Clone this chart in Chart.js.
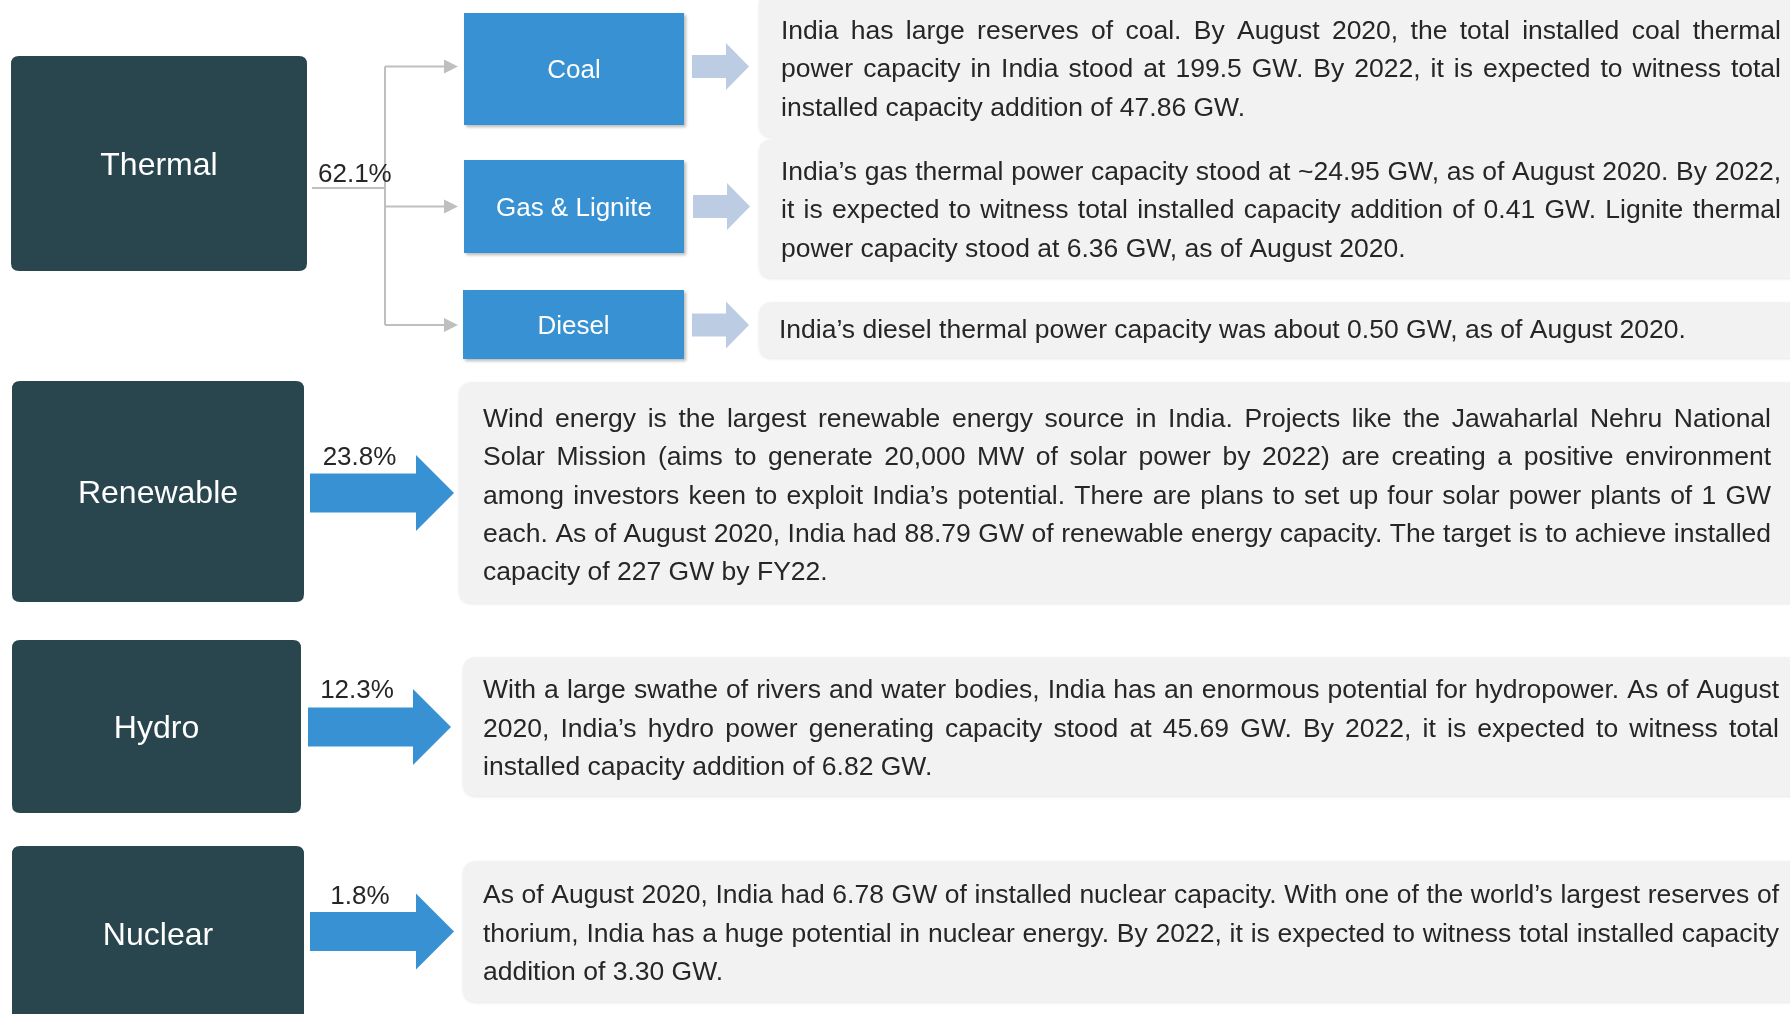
<!DOCTYPE html>
<html>
<head>
<meta charset="utf-8">
<script src="https://cdn.jsdelivr.net/npm/chart.js"></script>
<style>
html, body { margin: 0; padding: 0; background: #ffffff; }
#wrap { position: relative; width: 1790px; height: 1014px; }
</style>
</head>
<body>
<div id="wrap"><canvas id="powerChart"></canvas></div>
<script>
// Data
const sources = ['Thermal', 'Renewable', 'Hydro', 'Nuclear'];
const shares = [62.1, 23.8, 12.3, 1.8];
const thermalTypes = ['Coal', 'Gas & Lignite', 'Diesel'];

const coalNote = [
    'India has large reserves of coal. By August 2020, the total installed coal thermal',
    'power capacity in India stood at 199.5 GW. By 2022, it is expected to witness total',
    'installed capacity addition of 47.86 GW.'
];
const gasNote = [
    'India\u2019s gas thermal power capacity stood at ~24.95 GW, as of August 2020. By 2022,',
    'it is expected to witness total installed capacity addition of 0.41 GW. Lignite thermal',
    'power capacity stood at 6.36 GW, as of August 2020.'
];
const dieselNote = [
    'India\u2019s diesel thermal power capacity was about 0.50 GW, as of August 2020.'
];
const renewableNote = [
    'Wind energy is the largest renewable energy source in India. Projects like the Jawaharlal Nehru National',
    'Solar Mission (aims to generate 20,000 MW of solar power by 2022) are creating a positive environment',
    'among investors keen to exploit India\u2019s potential. There are plans to set up four solar power plants of 1 GW',
    'each. As of August 2020, India had 88.79 GW of renewable energy capacity. The target is to achieve installed',
    'capacity of 227 GW by FY22.'
];
const hydroNote = [
    'With a large swathe of rivers and water bodies, India has an enormous potential for hydropower. As of August',
    '2020, India\u2019s hydro power generating capacity stood at 45.69 GW. By 2022, it is expected to witness total',
    'installed capacity addition of 6.82 GW.'
];
const nuclearNote = [
    'As of August 2020, India had 6.78 GW of installed nuclear capacity. With one of the world\u2019s largest reserves of',
    'thorium, India has a huge potential in nuclear energy. By 2022, it is expected to witness total installed capacity',
    'addition of 3.30 GW.'
];

const thermalNotes = [coalNote, gasNote, dieselNote];
const otherNotes = [renewableNote, hydroNote, nuclearNote];

// Layout (in diagram units, mapped through the chart's x / y scales)
const FONT = '"Liberation Sans", Arial, sans-serif';
const COLORS = {
    dark: '#29464f',
    blue: '#3791d2',
    pale: '#bccde3',
    note: '#f2f2f2',
    line: '#bfbfbf',
    text: '#262626'
};
const sourceBoxes = [
    { x: 11, y: 56, w: 296, h: 215 },
    { x: 12, y: 381, w: 292, h: 221 },
    { x: 12, y: 640, w: 289, h: 173 },
    { x: 12, y: 846, w: 292, h: 176 }
];
const subBoxes = [
    { x: 464, y: 13, w: 220, h: 112 },
    { x: 464, y: 160, w: 220, h: 93 },
    { x: 463, y: 290, w: 221, h: 69 }
];
const subNoteBoxes = [
    { x: 759, y: -8, w: 1050, h: 145, text: 781, right: 1781, base: 39, step: 38.3 },
    { x: 759, y: 139, w: 1050, h: 139, text: 781, right: 1781, base: 180, step: 38.4 },
    { x: 759, y: 302, w: 1050, h: 56, text: 779, right: 1781, base: 338, step: 38.4 }
];
const otherNoteBoxes = [
    { x: 459, y: 382, w: 1350, h: 221, text: 483, right: 1771, base: 427, step: 38.3 },
    { x: 463, y: 657, w: 1350, h: 139, text: 483, right: 1779, base: 698, step: 38.5 },
    { x: 463, y: 861, w: 1350, h: 141, text: 483, right: 1779, base: 903, step: 38.5 }
];
const paleArrows = [
    { x0: 692, xh: 726, x1: 749, cy: 66.5 },
    { x0: 693, xh: 727, x1: 750, cy: 206.5 },
    { x0: 692, xh: 726, x1: 749, cy: 325 }
];
const blueArrows = [
    { x0: 310, xh: 416, x1: 454, cy: 493 },
    { x0: 308, xh: 413, x1: 451, cy: 727 },
    { x0: 310, xh: 416, x1: 454, cy: 931.5 }
];
const shareLabels = [
    { x: 318, y: 182, align: 'left' },
    { x: 359.5, y: 465, align: 'center' },
    { x: 357, y: 698, align: 'center' },
    { x: 360, y: 904, align: 'center' }
];
const branch = { x0: 312, xv: 385, y0: 188, xa: 444, xt: 458 };

function roundRect(ctx, x, y, w, h, r) {
    ctx.beginPath();
    ctx.moveTo(x + r, y);
    ctx.lineTo(x + w - r, y);
    ctx.quadraticCurveTo(x + w, y, x + w, y + r);
    ctx.lineTo(x + w, y + h - r);
    ctx.quadraticCurveTo(x + w, y + h, x + w - r, y + h);
    ctx.lineTo(x + r, y + h);
    ctx.quadraticCurveTo(x, y + h, x, y + h - r);
    ctx.lineTo(x, y + r);
    ctx.quadraticCurveTo(x, y, x + r, y);
    ctx.closePath();
}

// one line of a note, spread out to the right edge unless it is the last line
function drawLine(ctx, text, x0, x1, y, justify) {
    const target = x1 - x0;
    const natural = ctx.measureText(text).width;
    const words = text.split(' ');
    if (justify && words.length > 1) {
        const wordsW = words.reduce((s, w) => s + ctx.measureText(w).width, 0);
        const gap = (target - wordsW) / (words.length - 1);
        if (gap >= ctx.measureText(' ').width * 0.6) {
            let x = x0;
            words.forEach(w => {
                ctx.fillText(w, x, y);
                x += ctx.measureText(w).width + gap;
            });
            return;
        }
    }
    if (natural > target) {
        ctx.save();
        ctx.translate(x0, y);
        ctx.scale(target / natural, 1);
        ctx.fillText(text, 0, 0);
        ctx.restore();
    } else {
        ctx.fillText(text, x0, y);
    }
}

const diagramPlugin = {
    id: 'diagram',
    afterDraw(chart) {
        const ctx = chart.ctx;
        const sx = chart.scales.x, sy = chart.scales.y;
        const px = v => sx.getPixelForValue(v);
        const py = v => sy.getPixelForValue(v);
        const rect = b => [px(b.x), py(b.y), px(b.x + b.w) - px(b.x), py(b.y + b.h) - py(b.y)];

        ctx.save();

        // note panels
        subNoteBoxes.concat(otherNoteBoxes).forEach(b => {
            const [x, y, w, h] = rect(b);
            ctx.save();
            ctx.shadowColor = 'rgba(0,0,0,0.10)';
            ctx.shadowBlur = 3;
            ctx.shadowOffsetY = 1;
            roundRect(ctx, x, y, w, h, 14);
            ctx.fillStyle = COLORS.note;
            ctx.fill();
            ctx.restore();
        });

        // source boxes
        sourceBoxes.forEach((b, i) => {
            const [x, y, w, h] = rect(b);
            roundRect(ctx, x, y, w, h, 8);
            ctx.fillStyle = COLORS.dark;
            ctx.fill();
            ctx.fillStyle = '#ffffff';
            ctx.font = '32px ' + FONT;
            ctx.textAlign = 'center';
            ctx.textBaseline = 'alphabetic';
            ctx.fillText(sources[i], x + w / 2, y + h / 2 + 32 * 0.716 / 2);
        });

        // thermal branch connectors
        ctx.strokeStyle = COLORS.line;
        ctx.lineWidth = 2;
        const branchY = paleArrows.map(a => a.cy);
        ctx.beginPath();
        ctx.moveTo(px(branch.x0), py(branch.y0));
        ctx.lineTo(px(branch.xv), py(branch.y0));
        ctx.moveTo(px(branch.xv), py(branchY[0]));
        ctx.lineTo(px(branch.xv), py(branchY[2]));
        branchY.forEach(yy => {
            ctx.moveTo(px(branch.xv), py(yy));
            ctx.lineTo(px(branch.xa), py(yy));
        });
        ctx.stroke();
        ctx.fillStyle = COLORS.line;
        branchY.forEach(yy => {
            ctx.beginPath();
            ctx.moveTo(px(branch.xa), py(yy - 7));
            ctx.lineTo(px(branch.xt), py(yy));
            ctx.lineTo(px(branch.xa), py(yy + 7));
            ctx.closePath();
            ctx.fill();
        });

        // thermal sub-type boxes
        subBoxes.forEach((b, i) => {
            const [x, y, w, h] = rect(b);
            ctx.save();
            ctx.shadowColor = 'rgba(0,0,0,0.28)';
            ctx.shadowBlur = 3;
            ctx.shadowOffsetX = 2;
            ctx.shadowOffsetY = 2;
            ctx.fillStyle = COLORS.blue;
            ctx.fillRect(x, y, w, h);
            ctx.restore();
            ctx.fillStyle = '#ffffff';
            ctx.font = '26px ' + FONT;
            ctx.textAlign = 'center';
            ctx.fillText(thermalTypes[i], x + w / 2, y + h / 2 + 26 * 0.716 / 2);
        });

        // block arrows
        const blockArrow = (a, shaftHalf, headHalf, color) => {
            ctx.beginPath();
            ctx.moveTo(px(a.x0), py(a.cy - shaftHalf));
            ctx.lineTo(px(a.xh), py(a.cy - shaftHalf));
            ctx.lineTo(px(a.xh), py(a.cy - headHalf));
            ctx.lineTo(px(a.x1), py(a.cy));
            ctx.lineTo(px(a.xh), py(a.cy + headHalf));
            ctx.lineTo(px(a.xh), py(a.cy + shaftHalf));
            ctx.lineTo(px(a.x0), py(a.cy + shaftHalf));
            ctx.closePath();
            ctx.fillStyle = color;
            ctx.fill();
        };
        paleArrows.forEach(a => blockArrow(a, 11.5, 23.5, COLORS.pale));
        blueArrows.forEach(a => blockArrow(a, 19.5, 38, COLORS.blue));

        // share labels
        ctx.fillStyle = COLORS.text;
        ctx.font = '26px ' + FONT;
        shares.forEach((v, i) => {
            const l = shareLabels[i];
            ctx.textAlign = l.align;
            ctx.fillText(v.toFixed(1) + '%', px(l.x), py(l.y));
        });

        // note texts
        ctx.font = '26.5px ' + FONT;
        ctx.textAlign = 'left';
        const writeNote = (lines, b) => {
            lines.forEach((t, k) => {
                const last = k === lines.length - 1;
                drawLine(ctx, t, px(b.text), px(b.right), py(b.base + k * b.step), !last);
            });
        };
        thermalNotes.forEach((lines, i) => writeNote(lines, subNoteBoxes[i]));
        otherNotes.forEach((lines, i) => writeNote(lines, otherNoteBoxes[i]));

        ctx.restore();
    }
};

document.addEventListener('DOMContentLoaded', function () {
    const ctx = document.getElementById('powerChart').getContext('2d');
    new Chart(ctx, {
        type: 'scatter',
        data: { datasets: [{ data: [] }] },
        options: {
            responsive: true,
            maintainAspectRatio: false,
            animation: false,
            events: [],
            layout: { padding: 0 },
            scales: {
                x: { type: 'linear', min: 0, max: 1790, display: false },
                y: { type: 'linear', min: 0, max: 1014, reverse: true, display: false }
            },
            plugins: {
                legend: { display: false },
                tooltip: { enabled: false }
            }
        },
        plugins: [diagramPlugin]
    });
});
</script>
</body>
</html>
